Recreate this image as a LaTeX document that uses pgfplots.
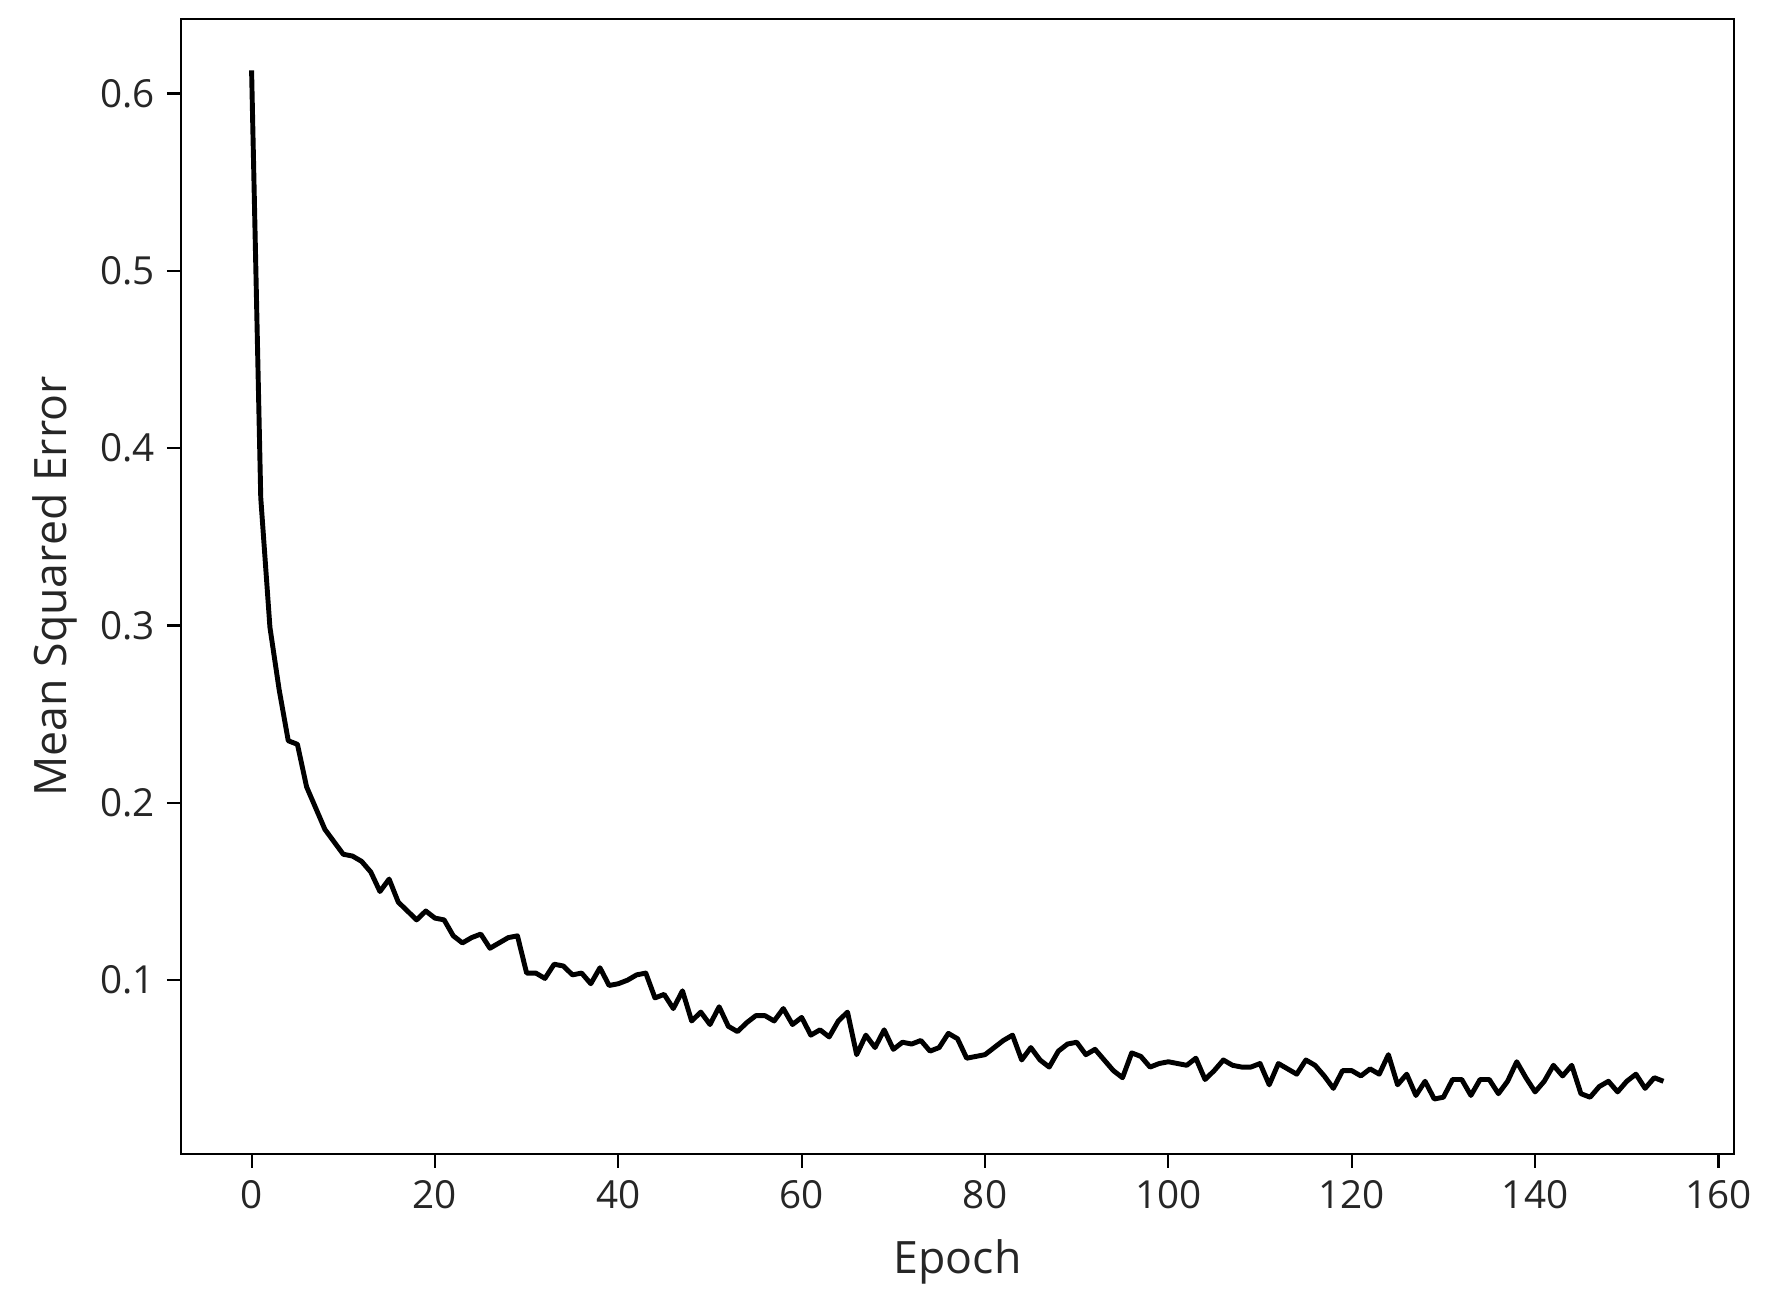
\documentclass[border=0pt]{standalone}
\usepackage{fontspec}
\setmainfont{Open Sans}
\usepackage{pgfplots}
\pgfplotsset{compat=1.18}
\usepackage{pgfplotstable}

% training loss per epoch
\pgfplotstableread{
epoch mse
0 0.613
1 0.372
2 0.299
3 0.264
4 0.235
5 0.233
6 0.209
7 0.197
8 0.185
9 0.178
10 0.171
11 0.170
12 0.167
13 0.161
14 0.150
15 0.157
16 0.144
17 0.139
18 0.134
19 0.139
20 0.135
21 0.134
22 0.125
23 0.121
24 0.124
25 0.126
26 0.118
27 0.121
28 0.124
29 0.125
30 0.104
31 0.104
32 0.101
33 0.109
34 0.108
35 0.103
36 0.104
37 0.098
38 0.107
39 0.097
40 0.098
41 0.100
42 0.103
43 0.104
44 0.090
45 0.092
46 0.084
47 0.094
48 0.077
49 0.082
50 0.075
51 0.085
52 0.074
53 0.071
54 0.076
55 0.080
56 0.080
57 0.077
58 0.084
59 0.075
60 0.079
61 0.069
62 0.072
63 0.068
64 0.077
65 0.082
66 0.058
67 0.069
68 0.062
69 0.072
70 0.061
71 0.065
72 0.064
73 0.066
74 0.060
75 0.062
76 0.070
77 0.067
78 0.056
79 0.057
80 0.058
81 0.062
82 0.066
83 0.069
84 0.055
85 0.062
86 0.055
87 0.051
88 0.060
89 0.064
90 0.065
91 0.058
92 0.061
93 0.055
94 0.049
95 0.045
96 0.059
97 0.057
98 0.051
99 0.053
100 0.054
101 0.053
102 0.052
103 0.056
104 0.044
105 0.049
106 0.055
107 0.052
108 0.051
109 0.051
110 0.053
111 0.041
112 0.053
113 0.050
114 0.047
115 0.055
116 0.052
117 0.046
118 0.039
119 0.049
120 0.049
121 0.046
122 0.050
123 0.047
124 0.058
125 0.041
126 0.047
127 0.035
128 0.043
129 0.033
130 0.034
131 0.044
132 0.044
133 0.035
134 0.044
135 0.044
136 0.036
137 0.043
138 0.054
139 0.045
140 0.037
141 0.043
142 0.052
143 0.046
144 0.052
145 0.036
146 0.034
147 0.040
148 0.043
149 0.037
150 0.043
151 0.047
152 0.039
153 0.045
154 0.043
}\losstable

\begin{document}
\begin{tikzpicture}
\begin{axis}[
  scale only axis,
  width=155.3mm, height=113.5mm,
  xmin=-7.7, xmax=161.7,
  ymin=0.002, ymax=0.642,
  xtick={0,20,...,160},
  ytick={0.1,0.2,0.3,0.4,0.5,0.6},
  yticklabel style={/pgf/number format/.cd, fixed, fixed zerofill, precision=1},
  /pgf/number format/assume math mode=true,
  tick align=outside,
  major tick length=1.4mm,
  tick style={black, line width=0.6pt},
  xtick pos=bottom, ytick pos=left,
  axis line style={line width=0.6pt},
  ticklabel style={font=\fontsize{11}{13}\selectfont, text=black!85},
  every axis x label/.style={at={(axis description cs:0.5,0)}, anchor=center, yshift=-10.8mm},
  every axis y label/.style={at={(axis description cs:0,0.5)}, xshift=-12.6mm, rotate=90, anchor=center},
  label style={font=\fontsize{12.7}{15}\selectfont, text=black!85},
  xlabel={Epoch},
  ylabel={Mean Squared Error},
]
\addplot[black, line width=1.4pt, line join=round] table[x=epoch, y=mse] {\losstable};
\end{axis}
\path ([xshift=-18.1mm,yshift=-14.8mm]current axis.south west) rectangle ([xshift=3.7mm,yshift=1.9mm]current axis.north east);
\end{tikzpicture}
\end{document}
